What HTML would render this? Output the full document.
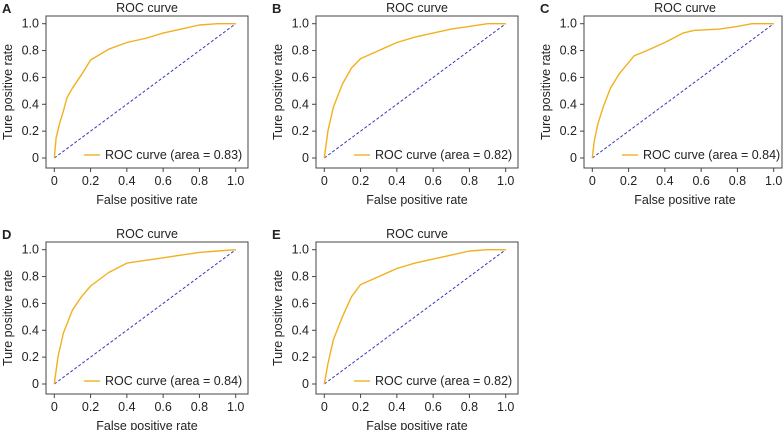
<!DOCTYPE html>
<html><head><meta charset="utf-8"><style>
body{margin:0;background:#fff;width:783px;height:430px;overflow:hidden}
svg{font-family:"Liberation Sans",sans-serif}
</style></head><body>
<svg id="chart" width="783" height="430"></svg>
<script>
const panelLabels=["A","B","C","D","E"];
const aucValues=["0.83","0.82","0.84","0.84","0.82"];
const tickLabels=["0","0.2","0.4","0.6","0.8","1.0"];
const tickValues=[0,0.2,0.4,0.6,0.8,1.0];
const fprA=[0,0.01,0.03,0.05,0.07,0.1,0.15,0.2,0.25,0.3,0.4,0.5,0.6,0.7,0.8,0.9,1];
const tprA=[0,0.15,0.26,0.35,0.45,0.52,0.62,0.73,0.77,0.81,0.86,0.89,0.93,0.96,0.99,1,1];
const fprB=[0,0.02,0.05,0.1,0.15,0.2,0.3,0.4,0.5,0.6,0.7,0.8,0.9,1];
const tprB=[0,0.2,0.38,0.55,0.67,0.74,0.8,0.86,0.9,0.93,0.96,0.98,1,1];
const fprC=[0,0.01,0.03,0.06,0.1,0.15,0.2,0.23,0.3,0.4,0.5,0.56,0.7,0.8,0.88,1];
const tprC=[0,0.12,0.25,0.38,0.52,0.63,0.71,0.76,0.8,0.86,0.93,0.95,0.96,0.98,1,1];
const fprD=[0,0.02,0.05,0.1,0.15,0.2,0.3,0.4,0.5,0.6,0.7,0.8,0.9,1];
const tprD=[0,0.2,0.38,0.55,0.65,0.73,0.83,0.9,0.92,0.94,0.96,0.98,0.99,1];
const fprE=[0,0.02,0.05,0.1,0.15,0.2,0.3,0.4,0.5,0.6,0.7,0.8,0.9,1];
const tprE=[0,0.15,0.33,0.5,0.65,0.74,0.8,0.86,0.9,0.93,0.96,0.99,1,1];
const fprs=[fprA,fprB,fprC,fprD,fprE];
const tprs=[tprA,tprB,tprC,tprD,tprE];
const offsets=[[0,0],[270,0],[538,0],[0,226],[270,226]];
const NS="http://www.w3.org/2000/svg";
const svg=document.getElementById('chart');
function mk(t,a,p,txt){const e=document.createElementNS(NS,t);for(const k in a)e.setAttribute(k,a[k]);if(txt!==undefined)e.textContent=txt;p.appendChild(e);return e;}
panelLabels.forEach((lab,i)=>{
  const [ox,oy]=offsets[i];
  const g=mk('g',{transform:`translate(${ox},${oy})`},svg);
  
  
  const sx=v=>54.3+v*181.4, sy=v=>158-v*134.3;
  const bw=Math.min(202,782-ox-46);
  const t=mk('text',{x:2,y:13,'font-size':13,'font-weight':'bold',fill:'#222'},g,lab);
  
  const ti=mk('text',{x:147,y:12,'font-size':12.5,'text-anchor':'middle',fill:'#222'},g,'ROC curve');
  
  const box=mk('rect',{x:46,y:16,width:bw,height:152,fill:'none',stroke:'#444','stroke-width':1},g);
  
  tickValues.forEach((v,j)=>{
    mk('line',{x1:sx(v),x2:sx(v),y1:168,y2:172,stroke:'#444'},g);
    const xl=mk('text',{x:sx(v),y:185,'font-size':12.5,'text-anchor':'middle',fill:'#222'},g,tickLabels[j]);
    
    mk('line',{x1:42,x2:46,y1:sy(v),y2:sy(v),stroke:'#444'},g);
    const yl=mk('text',{x:39,y:sy(v)+4,'font-size':12.5,'text-anchor':'end',fill:'#222'},g,tickLabels[j]);
    
  });
  const xt=mk('text',{x:147,y:204,'font-size':12.5,'text-anchor':'middle',fill:'#222'},g,'False positive rate');
  
  const yt=mk('text',{x:0,y:0,'font-size':12.5,'text-anchor':'middle',fill:'#222',transform:'translate(12,92) rotate(-90)'},g,'Ture positive rate');
  
  const dg=mk('line',{x1:sx(0),y1:sy(0),x2:sx(1),y2:sy(1),stroke:'#3a3ab8','stroke-width':1,'stroke-dasharray':'3,2'},g);
  
  const pts=fprs[i].map((x,k)=>sx(x).toFixed(1)+','+sy(tprs[i][k]).toFixed(1)).join(' ');
  const pl=mk('polyline',{points:pts,fill:'none',stroke:'#f2b01e','stroke-width':1.4,'stroke-linejoin':'round'},g);
  
  const ll=mk('line',{x1:84,x2:100,y1:155,y2:155,stroke:'#f2b01e','stroke-width':1.4},g);
  
  const lt=mk('text',{x:105,y:159,'font-size':12.5,fill:'#222'},g,'ROC curve (area = '+aucValues[i]+')');
  
});
</script>
</body></html>
